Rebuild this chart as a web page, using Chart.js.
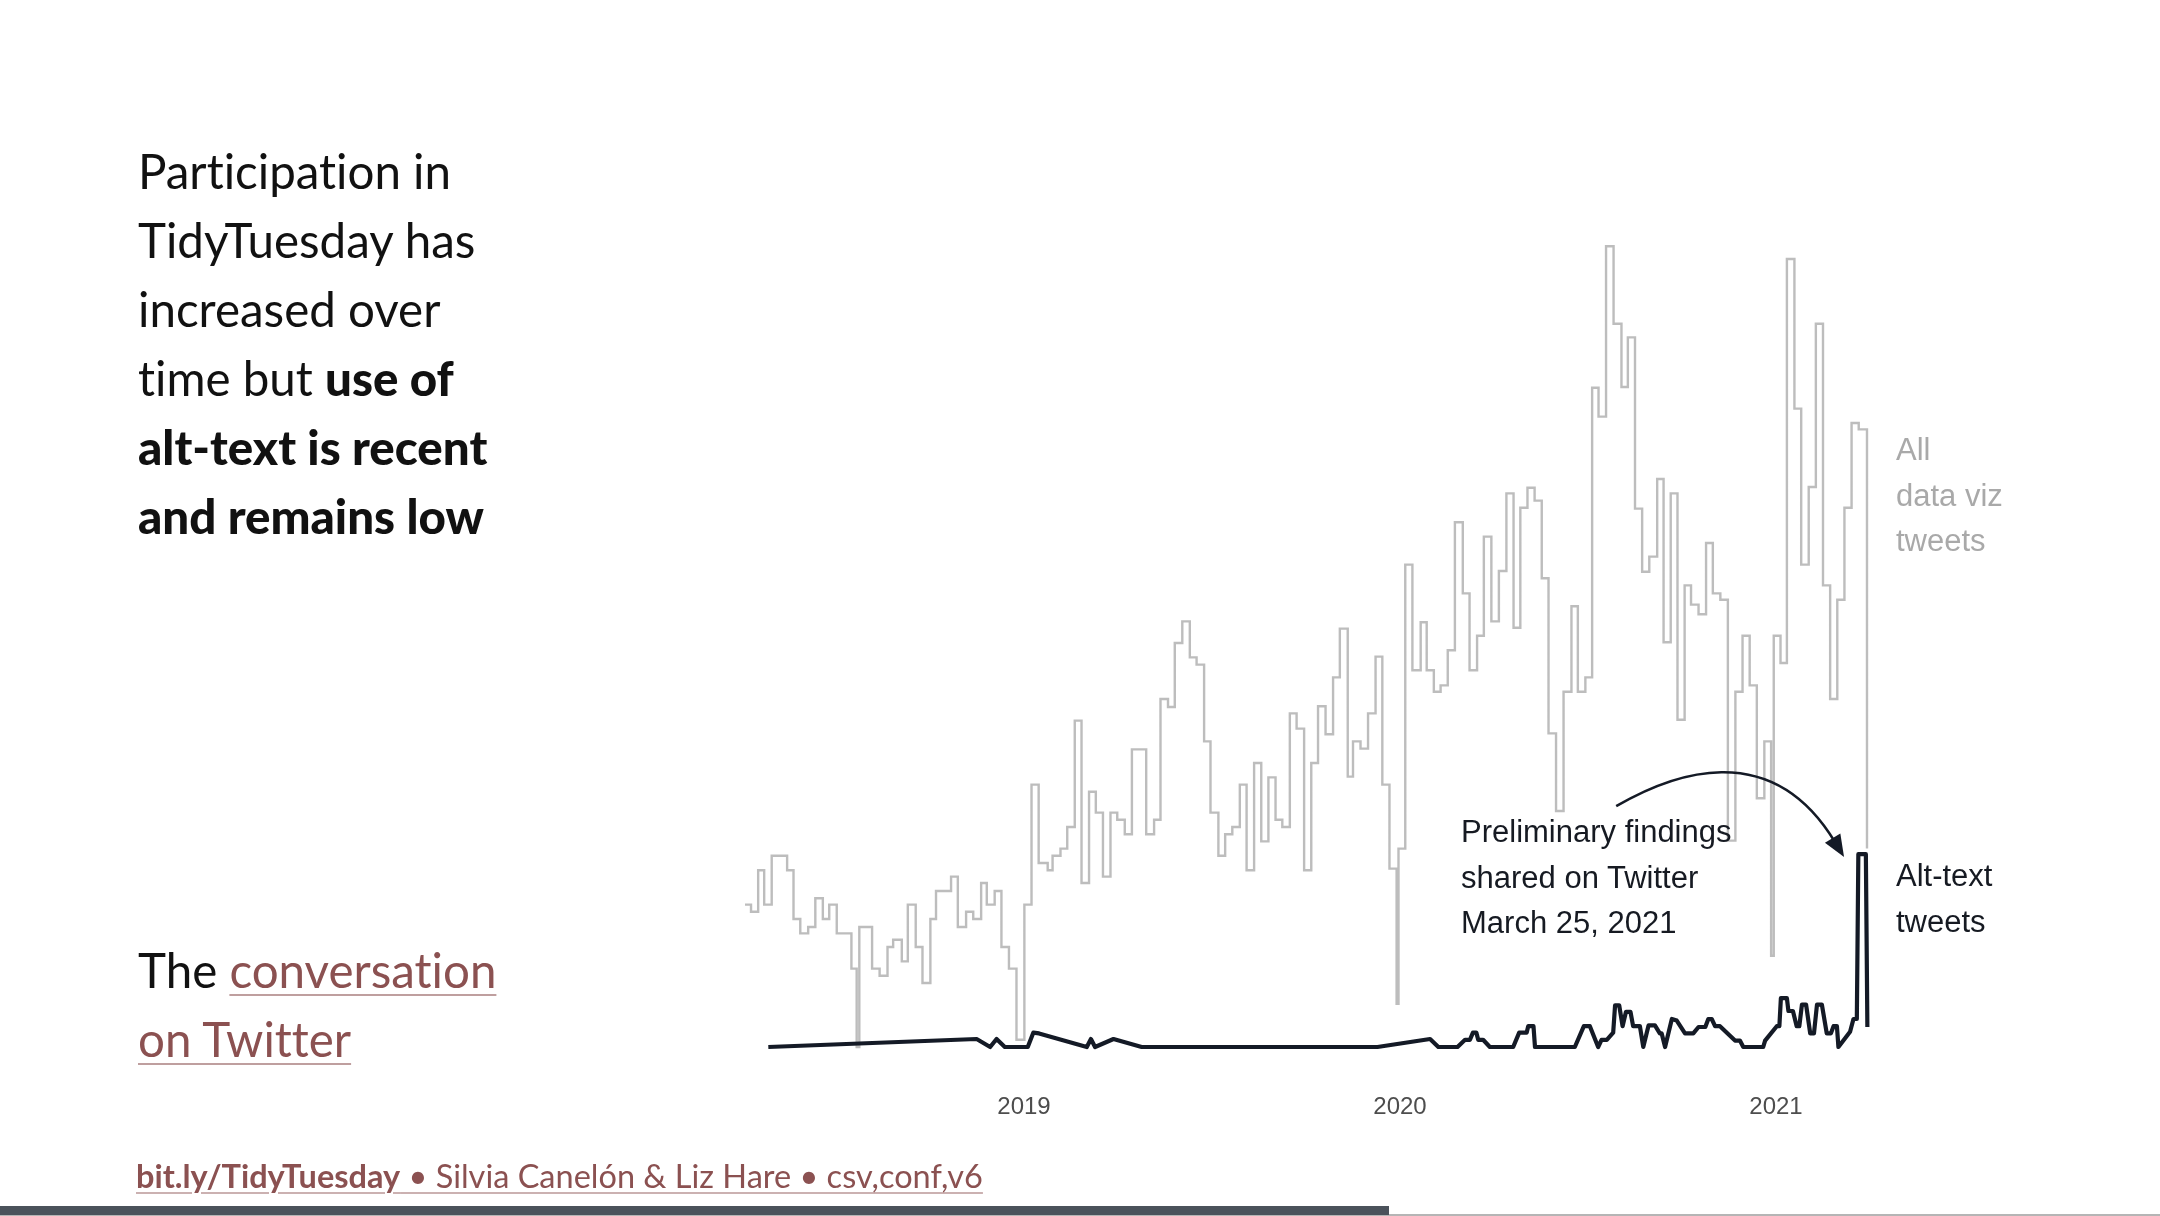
<!DOCTYPE html>
<html>
<head>
<meta charset="utf-8">
<title>TidyTuesday alt-text</title>
<script src="https://cdn.jsdelivr.net/npm/chart.js@4.4.0/dist/chart.umd.min.js"></script>
<style>
  html, body { margin: 0; padding: 0; background: #fff; }
  body { width: 2160px; height: 1216px; position: relative; overflow: hidden; }
  #wrap { position: absolute; left: 0; top: 0; width: 2160px; height: 1216px; }
  .lato { font-family: Lato, "Open Sans", sans-serif; font-variant-ligatures: none; }
  .sans { font-family: "Liberation Sans", Arial, sans-serif; }
  #lead { position: absolute; left: 138px; top: 136px; font-size: 47.5px; line-height: 69px; color: #111; white-space: nowrap; }
  #lead b { font-weight: 900; }
  #foot b { font-weight: 700; }
  #convo { position: absolute; left: 138px; top: 935px; font-size: 47.5px; line-height: 69px; color: #111; white-space: nowrap; }
  .link { color: #8b5151; text-decoration: underline; text-decoration-color: rgba(139,81,81,0.55);
          text-decoration-thickness: 2px; text-underline-offset: 6px; }
  #foot { position: absolute; left: 136px; top: 1156px; font-size: 32.5px; line-height: 1.2; color: #8b5151; white-space: nowrap;
          text-decoration: underline; text-decoration-color: rgba(139,81,81,0.45); text-decoration-thickness: 2px; text-underline-offset: 4px; }
  .note { position: absolute; font-size: 31px; line-height: 45.5px; white-space: nowrap; }
  #prelim { left: 1461px; top: 809px; color: #161a22; }
  #altlab { left: 1896px; top: 853px; color: #161a22; }
  #alllab { left: 1896px; top: 427px; color: #a9a9a9; }
  #bar { position: absolute; left: 0; top: 1206px; width: 1389px; height: 9px; background: #4b525b; }
  #rule { position: absolute; left: 0; top: 1214px; width: 2160px; height: 2px; background: #b5b5b5; }
</style>
</head>
<body>
<div id="wrap"><canvas id="tweetChart" width="2160" height="1216"></canvas></div>

<div id="lead" class="lato">Participation in<br>TidyTuesday has<br>increased over<br>time but <b>use of</b><br><b>alt-text is recent</b><br><b>and remains low</b></div>
<div id="convo" class="lato">The <span class="link">conversation</span><br><span class="link">on Twitter</span></div>
<div id="foot" class="lato"><b>bit.ly/TidyTuesday</b> • Silvia Canelón &amp; Liz Hare • csv,conf,v6</div>

<div id="prelim" class="note sans">Preliminary findings<br>shared on Twitter<br>March 25, 2021</div>
<div id="alllab" class="note sans">All<br>data viz<br>tweets</div>
<div id="altlab" class="note sans">Alt-text<br>tweets</div>

<div id="rule"></div>
<div id="bar"></div>

<script>
// weekly counts, x in decimal years
const allDates = [
  2018.258, 2018.274, 2018.293, 2018.309, 2018.329, 2018.370, 2018.387, 2018.405, 2018.426, 2018.445,
  2018.465, 2018.482, 2018.502, 2018.541, 2018.555, 2018.562, 2018.596, 2018.616, 2018.637, 2018.652,
  2018.675, 2018.691, 2018.712, 2018.730, 2018.751, 2018.766, 2018.806, 2018.824, 2018.846, 2018.865,
  2018.886, 2018.901, 2018.922, 2018.940, 2018.960, 2018.980, 2019.001, 2019.020, 2019.039, 2019.063,
  2019.076, 2019.097, 2019.115, 2019.135, 2019.153, 2019.173, 2019.191, 2019.210, 2019.230, 2019.248,
  2019.268, 2019.287, 2019.325, 2019.346, 2019.363, 2019.383, 2019.401, 2019.421, 2019.441, 2019.459,
  2019.479, 2019.496, 2019.517, 2019.535, 2019.554, 2019.574, 2019.592, 2019.612, 2019.631, 2019.650,
  2019.669, 2019.687, 2019.707, 2019.725, 2019.745, 2019.764, 2019.782, 2019.802, 2019.822, 2019.840,
  2019.861, 2019.875, 2019.895, 2019.915, 2019.935, 2019.953, 2019.972, 2019.991, 2019.996, 2020.014,
  2020.033, 2020.055, 2020.071, 2020.090, 2020.108, 2020.127, 2020.146, 2020.167, 2020.185, 2020.205,
  2020.223, 2020.243, 2020.263, 2020.283, 2020.302, 2020.320, 2020.339, 2020.358, 2020.377, 2020.395,
  2020.415, 2020.435, 2020.456, 2020.473, 2020.493, 2020.511, 2020.528, 2020.548, 2020.568, 2020.589,
  2020.606, 2020.625, 2020.644, 2020.663, 2020.684, 2020.701, 2020.720, 2020.738, 2020.757, 2020.774,
  2020.794, 2020.814, 2020.832, 2020.852, 2020.872, 2020.892, 2020.911, 2020.930, 2020.949, 2020.969,
  2020.987, 2020.994, 2021.012, 2021.029, 2021.049, 2021.067, 2021.087, 2021.106, 2021.125, 2021.144,
  2021.163, 2021.182, 2021.201, 2021.220, 2021.242
];
const allCounts = [
  17.8, 16.9, 22.1, 17.8, 23.9, 22.1, 16.0, 14.2, 15.0, 18.6,
  16.0, 17.8, 14.2, 9.8, 0, 15.0, 9.8, 8.9, 12.5, 13.4,
  10.7, 17.8, 12.5, 8.0, 16.0, 19.5, 21.3, 15.0, 16.9, 16.0,
  20.5, 17.8, 19.5, 12.5, 9.8, 0.9, 17.8, 32.8, 23.0, 22.1,
  23.9, 24.8, 27.5, 40.8, 20.5, 31.9, 29.3, 21.3, 29.3, 28.4,
  26.6, 37.2, 26.6, 28.4, 43.5, 42.5, 50.5, 53.2, 48.7, 47.8,
  38.2, 29.3, 23.9, 26.6, 27.5, 32.8, 22.1, 35.5, 25.7, 33.7,
  28.4, 27.5, 41.7, 39.8, 22.1, 35.5, 42.6, 39.1, 46.2, 52.3,
  33.8, 38.2, 37.3, 41.7, 48.8, 32.8, 22.3, 5.4, 24.8, 60.3,
  47.1, 53.1, 47.1, 44.4, 45.2, 49.6, 65.6, 56.7, 47.1, 51.4,
  63.8, 53.2, 59.5, 69.2, 52.4, 67.4, 69.9, 68.3, 58.6, 39.2,
  29.5, 44.4, 55.1, 44.4, 46.2, 82.4, 78.8, 100.1, 90.4, 82.5,
  88.7, 67.3, 59.4, 61.3, 71.0, 50.6, 69.2, 40.9, 57.7, 55.3,
  54.1, 63.0, 56.7, 55.9, 25.8, 44.4, 51.4, 45.2, 31.1, 38.2,
  11.4, 51.4, 48.0, 98.5, 79.8, 60.3, 70.0, 90.4, 57.7, 43.5,
  55.9, 67.4, 78.0, 77.2, 24.8
];

const altDates = [
  2018.320, 2018.874, 2018.910, 2018.927, 2018.949, 2019.010, 2019.025, 2019.040, 2019.167, 2019.178,
  2019.189, 2019.238, 2019.313, 2019.940, 2020.080, 2020.102, 2020.153, 2020.173, 2020.186, 2020.194,
  2020.203, 2020.208, 2020.221, 2020.239, 2020.301, 2020.317, 2020.337, 2020.341, 2020.355, 2020.359,
  2020.465, 2020.489, 2020.505, 2020.527, 2020.536, 2020.550, 2020.567, 2020.572, 2020.583, 2020.592,
  2020.601, 2020.613, 2020.620, 2020.638, 2020.647, 2020.661, 2020.678, 2020.691, 2020.696, 2020.705,
  2020.723, 2020.736, 2020.758, 2020.780, 2020.794, 2020.812, 2020.820, 2020.829, 2020.838, 2020.851,
  2020.891, 2020.904, 2020.913, 2020.966, 2020.971, 2021.002, 2021.009, 2021.013, 2021.029, 2021.033,
  2021.045, 2021.055, 2021.062, 2021.069, 2021.080, 2021.091, 2021.101, 2021.109, 2021.122, 2021.135,
  2021.146, 2021.153, 2021.162, 2021.166, 2021.197, 2021.206, 2021.215, 2021.219, 2021.239, 2021.243
];
const altCounts = [
  0, 1, 0, 1, 0, 0, 1.8, 1.7, 0, 1,
  0, 1, 0, 0, 1, 0, 0, 0.9, 0.9, 1.8,
  1.8, 0.9, 0.9, 0, 0, 1.8, 1.8, 2.6, 2.6, 0,
  0, 2.6, 2.6, 0, 0.9, 0.9, 1.8, 5.2, 5.2, 2.6,
  4.4, 4.4, 2.6, 2.6, 0, 2.7, 2.7, 1.7, 1.7, 0,
  3.5, 3.3, 1.7, 1.7, 2.5, 2.5, 3.5, 3.5, 2.6, 2.6,
  0.8, 0.8, 0, 0, 0.8, 2.6, 2.6, 6.1, 6.1, 4.5,
  4.5, 2.6, 2.6, 5.3, 5.3, 1.7, 1.7, 5.3, 5.3, 1.7,
  1.7, 2.6, 2.6, 0, 1.9, 3.5, 3.5, 24.1, 24.1, 2.5
];

const yearTicks = [2019, 2020, 2021];

// curved arrow from the note to the alt-text spike: start, two controls, tip (year, count)
const arrowPath = [[2020.575, 30.1], [2020.718, 34.0], [2020.984, 39.0], [2021.181, 23.75]];

const arrowPlugin = {
  id: 'noteArrow',
  afterDatasetsDraw(chart) {
    const { ctx, scales: { x, y } } = chart;
    const p = arrowPath.map(([a, b]) => [x.getPixelForValue(a), y.getPixelForValue(b)]);
    const tip = p[3];
    const dx = tip[0] - p[2][0], dy = tip[1] - p[2][1];
    const len = Math.hypot(dx, dy);
    const ux = dx / len, uy = dy / len;
    const headL = 22, headW = 9;
    const base = [tip[0] - ux * headL, tip[1] - uy * headL];
    ctx.save();
    ctx.strokeStyle = '#141a26';
    ctx.fillStyle = '#141a26';
    ctx.lineWidth = 2.6;
    ctx.beginPath();
    ctx.moveTo(p[0][0], p[0][1]);
    ctx.bezierCurveTo(p[1][0], p[1][1], p[2][0], p[2][1], base[0] + ux * 4, base[1] + uy * 4);
    ctx.stroke();
    ctx.beginPath();
    ctx.moveTo(tip[0], tip[1]);
    ctx.lineTo(base[0] - uy * headW, base[1] + ux * headW);
    ctx.lineTo(base[0] + uy * headW, base[1] - ux * headW);
    ctx.closePath();
    ctx.fill();
    ctx.restore();
  }
};

new Chart(document.getElementById('tweetChart').getContext('2d'), {
  type: 'line',
  data: {
    datasets: [
      {
        label: 'Alt-text tweets',
        data: altDates.map((d, i) => ({ x: d, y: altCounts[i] })),
        borderColor: '#141a26',
        borderWidth: 4.2,
        borderJoinStyle: 'round',
        pointRadius: 0,
        tension: 0,
        order: 0,
        clip: false
      },
      {
        label: 'All data viz tweets',
        data: allDates.map((d, i) => ({ x: d, y: allCounts[i] })),
        borderColor: '#bdbdbd',
        borderWidth: 2.4,
        stepped: true,
        pointRadius: 0,
        order: 1,
        clip: false
      }
    ]
  },
  options: {
    responsive: false,
    animation: false,
    devicePixelRatio: 1,
    layout: { padding: { left: 723.2, right: 233.6, top: 167, bottom: 65 } },
    plugins: { legend: { display: false }, tooltip: { enabled: false } },
    scales: {
      x: {
        type: 'linear',
        min: 2018.2,
        max: 2021.4,
        grid: { display: false, drawTicks: false },
        border: { display: false },
        afterBuildTicks: (scale) => { scale.ticks = yearTicks.map(v => ({ value: v })); },
        ticks: {
          padding: 29.6,
          color: '#4d4d4d',
          font: { family: '"Liberation Sans", Arial, sans-serif', size: 24 },
          callback: (v) => String(v)
        }
      },
      y: {
        display: false,
        min: -2,
        max: 110
      }
    }
  },
  plugins: [arrowPlugin]
});
</script>
</body>
</html>
